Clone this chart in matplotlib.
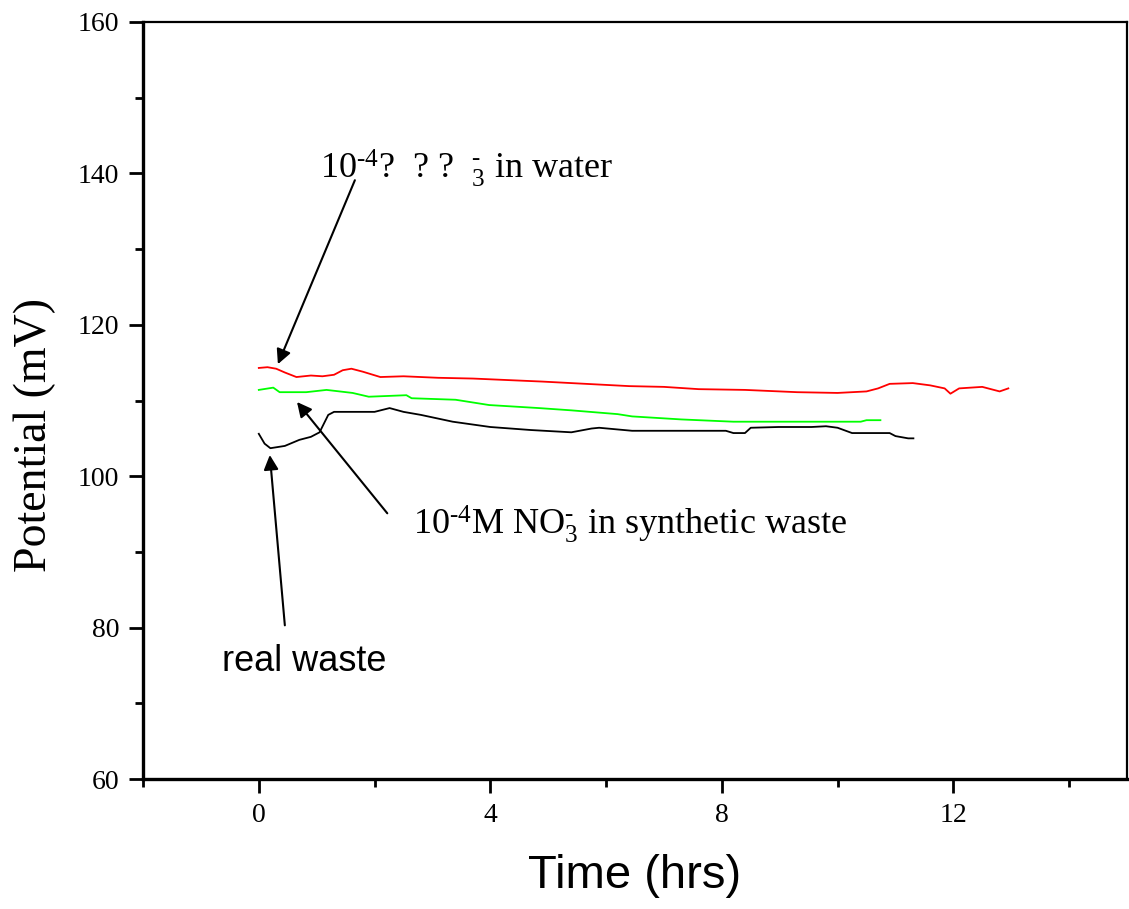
import matplotlib
matplotlib.use("Agg")
import matplotlib.pyplot as plt
from matplotlib.ticker import MultipleLocator

plt.rcParams['font.family'] = ['Liberation Serif', 'DejaVu Serif']
plt.rcParams['mathtext.fontset'] = 'custom'
plt.rcParams['mathtext.rm'] = 'Liberation Serif'
plt.rcParams['mathtext.it'] = 'Liberation Serif'
plt.rcParams['mathtext.default'] = 'rm'

# data (time in hrs, potential in mV)
red_t = [0, 0.15, 0.3, 0.45, 0.65, 0.9, 1.1, 1.3, 1.45, 1.6, 1.8, 2.1, 2.5, 3.1, 3.7, 4.3,
         4.9, 5.4, 5.9, 6.4, 7.0, 7.6, 8.4, 9.3, 10.0, 10.5, 10.7, 10.9, 11.3, 11.6, 11.85,
         11.95, 12.1, 12.5, 12.8, 12.95]
red_v = [114.3, 114.4, 114.2, 113.7, 113.1, 113.3, 113.2, 113.4, 114.0, 114.2, 113.8, 113.1,
         113.2, 113.0, 112.9, 112.7, 112.5, 112.3, 112.1, 111.9, 111.8, 111.5, 111.4, 111.1,
         111.0, 111.2, 111.6, 112.2, 112.3, 112.0, 111.6, 110.9, 111.6, 111.8, 111.2, 111.6]

green_t = [0, 0.25, 0.36, 0.82, 1.17, 1.62, 1.9, 2.55, 2.64, 3.4, 3.98, 4.84, 5.4, 6.2,
           6.45, 7.3, 8.2, 10.4, 10.5, 10.74]
green_v = [111.4, 111.7, 111.1, 111.1, 111.4, 111.0, 110.5, 110.7, 110.3, 110.1, 109.4,
           109.0, 108.7, 108.2, 107.9, 107.5, 107.2, 107.2, 107.4, 107.4]

black_t = [0, 0.1, 0.2, 0.45, 0.7, 0.9, 1.05, 1.2, 1.3, 2.0, 2.26, 2.5, 2.8, 3.35, 4.0,
           4.7, 5.4, 5.75, 5.88, 6.45, 8.07, 8.2, 8.4, 8.5, 8.98, 9.55, 9.8, 10.0, 10.25,
           10.9, 11.0, 11.22, 11.31]
black_v = [105.6, 104.3, 103.7, 104.0, 104.8, 105.2, 105.8, 108.1, 108.5, 108.5, 109.0,
           108.5, 108.1, 107.2, 106.5, 106.1, 105.8, 106.3, 106.4, 106.0, 106.0, 105.7,
           105.7, 106.4, 106.5, 106.5, 106.6, 106.4, 105.7, 105.7, 105.3, 105.0, 105.0]

fig = plt.figure(figsize=(11.29, 9.09), dpi=100)
ax = fig.add_axes([0.1267, 0.1430, 0.8715, 0.8328])

ax.plot(red_t, red_v, color='#ff0000', lw=1.3)
ax.plot(green_t, green_v, color='#00ff00', lw=1.3)
ax.plot(black_t, black_v, color='black', lw=1.3)

ax.set_xlim(-2, 15)
ax.set_ylim(60, 160)
ax.xaxis.set_major_locator(MultipleLocator(4))
ax.xaxis.set_minor_locator(MultipleLocator(2))
ax.yaxis.set_major_locator(MultipleLocator(20))
ax.yaxis.set_minor_locator(MultipleLocator(10))

for s in ['left', 'bottom']:
    ax.spines[s].set_linewidth(2.4)
for s in ['top', 'right']:
    ax.spines[s].set_linewidth(1.6)

ax.tick_params(which='major', direction='out', length=10, width=2, pad=7, labelsize=20)
ax.tick_params(which='minor', direction='out', length=5.5, width=2)

ax.set_xlabel('Time (hrs)', fontfamily='Liberation Sans', fontsize=34, labelpad=19)
fig.text(35 / 1129, 1 - 435 / 909, 'Potential (mV)', fontfamily='Liberation Serif',
         fontsize=33, rotation=90, ha='center', va='center')

arrow = dict(arrowstyle='-|>', color='black', lw=1.5, mutation_scale=22, shrinkA=0, shrinkB=0)

ax.annotate('', xy=(0.33, 114.8), xytext=(1.66, 139.1), arrowprops=arrow)
ax.annotate('', xy=(0.66, 109.8), xytext=(2.22, 95.1), arrowprops=arrow)
ax.annotate('', xy=(0.19, 102.8), xytext=(0.45, 80.3), arrowprops=arrow)

hy = '\u2010'
ax.text(1.05, 140.7, '10$^{' + hy + '4}$?  ? ?  ${}_{3}^{' + hy + '}$ in water',
        fontsize=26, va='center', ha='left')
ax.text(2.66, 93.6, '10$^{' + hy + '4}$M NO$_{3}^{' + hy + '}$ in synthetic waste',
        fontsize=26, va='center', ha='left')
ax.text(-0.64, 75.5, 'real waste', fontfamily='Liberation Sans', fontsize=26,
        va='center', ha='left')

fig.savefig('out.png', dpi=100)
